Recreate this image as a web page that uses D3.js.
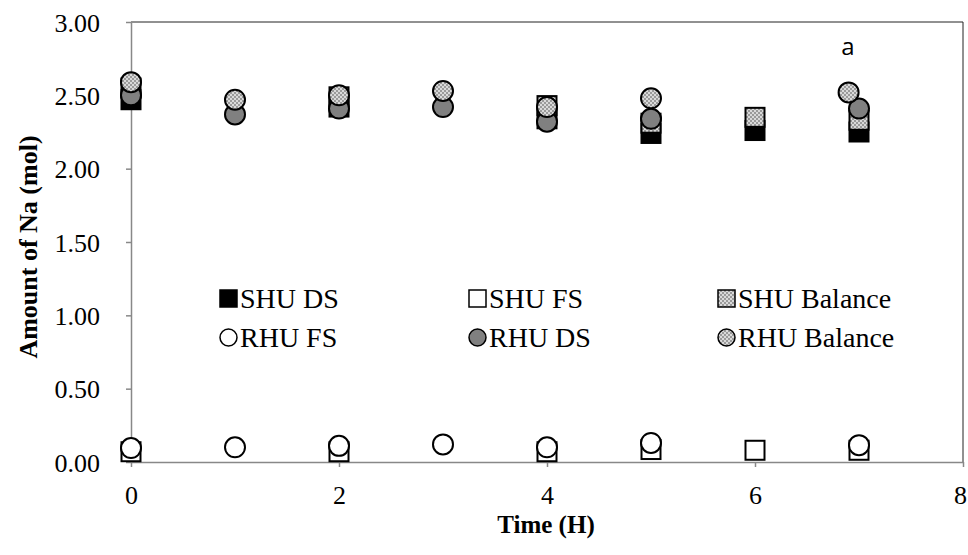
<!DOCTYPE html>
<html><head><meta charset="utf-8">
<script src="https://cdn.jsdelivr.net/npm/d3@7"></script>
<style>body{margin:0;background:#fff}svg{display:block}</style>
</head><body>
<script>
const timeSHU = [0, 2, 4, 5, 6, 7];
const shuDS  = [2.47, 2.42, 2.34, 2.24, 2.26, 2.25];
const shuFS  = [0.07, 0.07, 0.07, 0.085, 0.08, 0.08];
const shuBal = [2.55, 2.49, 2.43, 2.31, 2.35, 2.33];
const timeRHU = [0, 1, 2, 3, 4, 5, 7];
const timeRHUBal = [0, 1, 2, 3, 4, 5, 6.9];
const rhuFS  = [0.095, 0.10, 0.11, 0.12, 0.10, 0.13, 0.115];
const rhuDS  = [2.50, 2.37, 2.41, 2.42, 2.32, 2.34, 2.41];
const rhuBal = [2.59, 2.47, 2.50, 2.53, 2.42, 2.48, 2.52];
const xTicks = [0, 2, 4, 6, 8];
const yTicks = [0, 0.5, 1, 1.5, 2, 2.5, 3];
const legendNames = ["SHU DS", "SHU FS", "SHU Balance", "RHU FS", "RHU DS", "RHU Balance"];

const W = 968, H = 555;
const L = 131, R = 963, T = 22, B = 462;
const svg = d3.select("body").append("svg").attr("width", W).attr("height", H);
const defs = svg.append("defs");
const pat = defs.append("pattern").attr("id", "chk").attr("patternUnits", "userSpaceOnUse")
  .attr("width", 4).attr("height", 4);
pat.append("rect").attr("width", 4).attr("height", 4).attr("fill", "#9a9a9a");
pat.append("rect").attr("x", 0).attr("y", 0).attr("width", 2).attr("height", 2).attr("fill", "#d9d9d9");
pat.append("rect").attr("x", 2).attr("y", 2).attr("width", 2).attr("height", 2).attr("fill", "#d9d9d9");

const x = d3.scaleLinear().domain([0, 8]).range([L, R]);
const y = d3.scaleLinear().domain([0, 3]).range([B, T]);

// plot border
svg.append("line").attr("x1", L).attr("x2", R).attr("y1", T).attr("y2", T).attr("stroke", "#222").attr("stroke-width", 1);
svg.append("line").attr("x1", R).attr("x2", R).attr("y1", T).attr("y2", B).attr("stroke", "#222").attr("stroke-width", 1);

const font = "'Liberation Serif','Times New Roman',serif";
const xAxis = svg.append("g").attr("transform", `translate(0,${B})`)
  .call(d3.axisBottom(x).tickValues(xTicks).tickFormat(d3.format("d")).tickSize(5).tickSizeOuter(0));
const yAxis = svg.append("g").attr("transform", `translate(${L},0)`)
  .call(d3.axisLeft(y).tickValues(yTicks).tickFormat(d3.format(".2f")).tickSize(5).tickSizeOuter(0));
[xAxis, yAxis].forEach(a => {
  a.selectAll("path,line").attr("stroke", "#888").attr("stroke-width", 1.5);
  a.selectAll("text").attr("font-family", font).attr("font-size", 26).attr("fill", "#000");
});
xAxis.selectAll("text").attr("y", 33).attr("dy", "0.35em")
  .attr("dx", d => d === 8 ? -3 : 0);
yAxis.selectAll("text").attr("x", -31).attr("dy", "0.35em");

svg.append("text").attr("x", 546).attr("y", 533).attr("text-anchor", "middle")
  .attr("font-family", font).attr("font-weight", "bold").attr("font-size", 25).text("Time (H)");
svg.append("text").attr("transform", `translate(37,${(T + B) / 2 + 5}) rotate(-90)`).attr("text-anchor", "middle")
  .attr("font-family", font).attr("font-weight", "bold").attr("font-size", 26).text("Amount of Na (mol)");
svg.append("text").attr("x", 848).attr("y", 55).attr("text-anchor", "middle")
  .attr("font-family", "'Open Sans','Liberation Sans',sans-serif").attr("font-size", 24).text("a");

const S = 19, Rc = 10;
function squares(xs, ys, fill) {
  svg.append("g").selectAll("rect").data(xs.map((t, i) => [t, ys[i]])).join("rect")
    .attr("x", d => x(d[0]) - S / 2).attr("y", d => y(d[1]) - S / 2)
    .attr("width", S).attr("height", S).attr("fill", fill).attr("stroke", "#000").attr("stroke-width", 2);
}
function circles(xs, ys, fill) {
  svg.append("g").selectAll("circle").data(xs.map((t, i) => [t, ys[i]])).join("circle")
    .attr("cx", d => x(d[0])).attr("cy", d => y(d[1])).attr("r", Rc)
    .attr("fill", fill).attr("stroke", "#000").attr("stroke-width", 2);
}
squares(timeSHU, shuDS, "#000");
squares(timeSHU, shuFS, "#fff");
squares(timeSHU, shuBal, "url(#chk)");
circles(timeRHU, rhuFS, "#fff");
circles(timeRHU, rhuDS, "#808080");
circles(timeRHUBal, rhuBal, "url(#chk)");

// legend
const legFill = ["#000", "#fff", "url(#chk)", "#fff", "#808080", "url(#chk)"];
const colX = [220, 469, 718], rowY = [298, 337];
legendNames.forEach((n, i) => {
  const cx = colX[i % 3], cy = rowY[Math.floor(i / 3)];
  const g = svg.append("g");
  if (i < 3) g.append("rect").attr("x", cx).attr("y", cy - 8).attr("width", 17).attr("height", 17)
    .attr("fill", legFill[i]).attr("stroke", "#000").attr("stroke-width", 1.5);
  else g.append("circle").attr("cx", cx + 8.5).attr("cy", cy + 0.5).attr("r", 8.5)
    .attr("fill", legFill[i]).attr("stroke", "#000").attr("stroke-width", 1.5);
  g.append("text").attr("x", cx + 20).attr("y", cy).attr("dy", "0.35em")
    .attr("font-family", font).attr("font-size", 28).text(n);
});
</script>
</body></html>
